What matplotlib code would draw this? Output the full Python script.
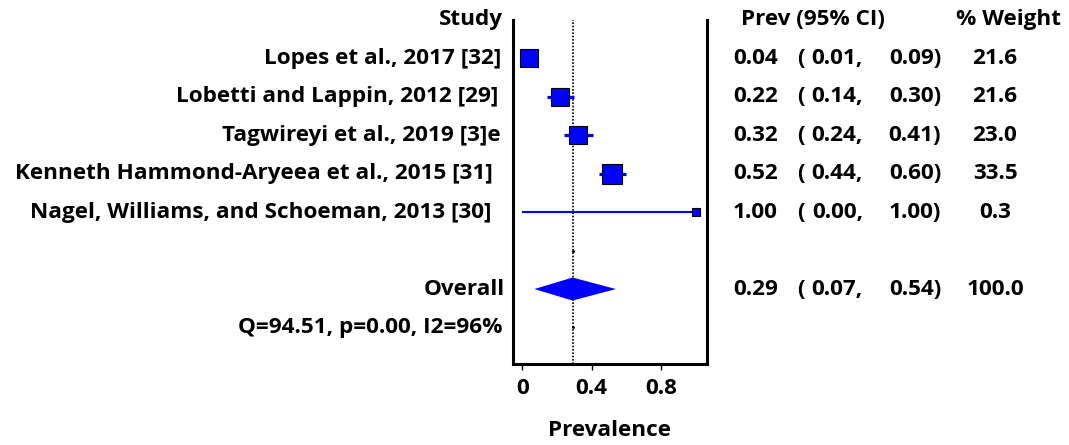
import numpy as np
import matplotlib.pyplot as plt
from matplotlib.transforms import blended_transform_factory

studies = ["Lopes et al., 2017 [32]",
           "Lobetti and Lappin, 2012 [29]",
           "Tagwireyi et al., 2019 [3]e",
           "Kenneth Hammond-Aryeea et al., 2015 [31]",
           "Nagel, Williams, and Schoeman, 2013 [30]"]
prev = [0.04, 0.22, 0.32, 0.52, 1.00]
ci_low = [0.01, 0.14, 0.24, 0.44, 0.00]
ci_high = [0.09, 0.30, 0.41, 0.60, 1.00]
weight = [21.6, 21.6, 23.0, 33.5, 0.3]

overall = 0.29
overall_low = 0.07
overall_high = 0.54
overall_weight = 100.0
het_text = "Q=94.51, p=0.00, I2=96%"

plt.rcParams['font.family'] = ['Open Sans', 'DejaVu Sans']
plt.rcParams['font.weight'] = 'bold'
FS = 16.2

W, H = 1069, 445
fig = plt.figure(figsize=(W / 100, H / 100), dpi=100)
ax = fig.add_axes([512.7 / W, 1 - 364 / H, (707 - 512.7) / W, (364 - 20) / H])

rows = np.arange(len(studies))
overall_row = len(studies) + 1
het_row = overall_row + 1

# CI lines and weighted squares
for i in rows:
    lw = 2.3 if weight[i] > 1 else 1.5
    ax.plot([ci_low[i], ci_high[i]], [i, i], color='#0000ff', lw=lw, zorder=2,
            solid_capstyle='butt')
    side = (6.6 + 2.48 * np.sqrt(weight[i])) * 0.72
    ax.plot(prev[i], i, marker='s', ms=side, mfc='#0000ff', mec='black',
            mew=0.8, zorder=3)

# overall diamond
h = 0.3
ax.fill([overall_low, overall, overall_high, overall],
        [overall_row, overall_row - h, overall_row, overall_row + h],
        color='#0000ff', lw=0, zorder=3)

ax.axvline(overall, color='black', ls=(0, (1, 1)), lw=1.2, zorder=1)
ax.plot([overall, overall], [len(studies), het_row], ls='none', marker='.',
        ms=2, color='black')

ax.set_xlim(-0.055, 1.065)
ax.set_ylim(7.95, -1.0)
ax.set_yticks([])
ax.set_xticks([0, 0.4, 0.8])
ax.set_xticklabels(["0", "0.4", "0.8"], fontsize=FS, fontweight='bold')
ax.tick_params(axis='x', length=4, width=1, pad=6)
ax.set_xlabel("Prevalence", fontsize=FS, fontweight='bold', labelpad=15)
ax.spines['top'].set_visible(False)
for s in ['left', 'right', 'bottom']:
    ax.spines[s].set_linewidth(2.2)

tr = blended_transform_factory(fig.transFigure, ax.transData)
px = lambda x: x / W

# left column
ax.text(px(503), -1, "Study", transform=tr, ha='right', va='center', fontsize=FS)
label_right = [501, 498, 501, 493, 491]
for i in rows:
    ax.text(px(label_right[i]), i, studies[i], transform=tr, ha='right',
            va='center', fontsize=FS)
ax.text(px(505), overall_row, "Overall", transform=tr, ha='right', va='center',
        fontsize=FS)
ax.text(px(503), het_row, het_text, transform=tr, ha='right', va='center',
        fontsize=FS)

# right columns
ax.text(px(741), -1, "Prev (95% CI)", transform=tr, ha='left', va='center',
        fontsize=FS)
ax.text(px(1008), -1, "% Weight", transform=tr, ha='center', va='center',
        fontsize=FS)


def stat_row(y, est, lo, hi, w):
    ax.text(px(733), y, f"{est:.2f}", transform=tr, ha='left', va='center', fontsize=FS)
    ax.text(px(797), y, "(", transform=tr, ha='left', va='center', fontsize=FS)
    ax.text(px(863), y, f"{lo:.2f},", transform=tr, ha='right', va='center', fontsize=FS)
    ax.text(px(941), y, f"{hi:.2f})", transform=tr, ha='right', va='center', fontsize=FS)
    ax.text(px(995), y, f"{w:.1f}", transform=tr, ha='center', va='center', fontsize=FS)


for i in rows:
    stat_row(i, prev[i], ci_low[i], ci_high[i], weight[i])
stat_row(overall_row, overall, overall_low, overall_high, overall_weight)

fig.savefig("out.png", dpi=100)
